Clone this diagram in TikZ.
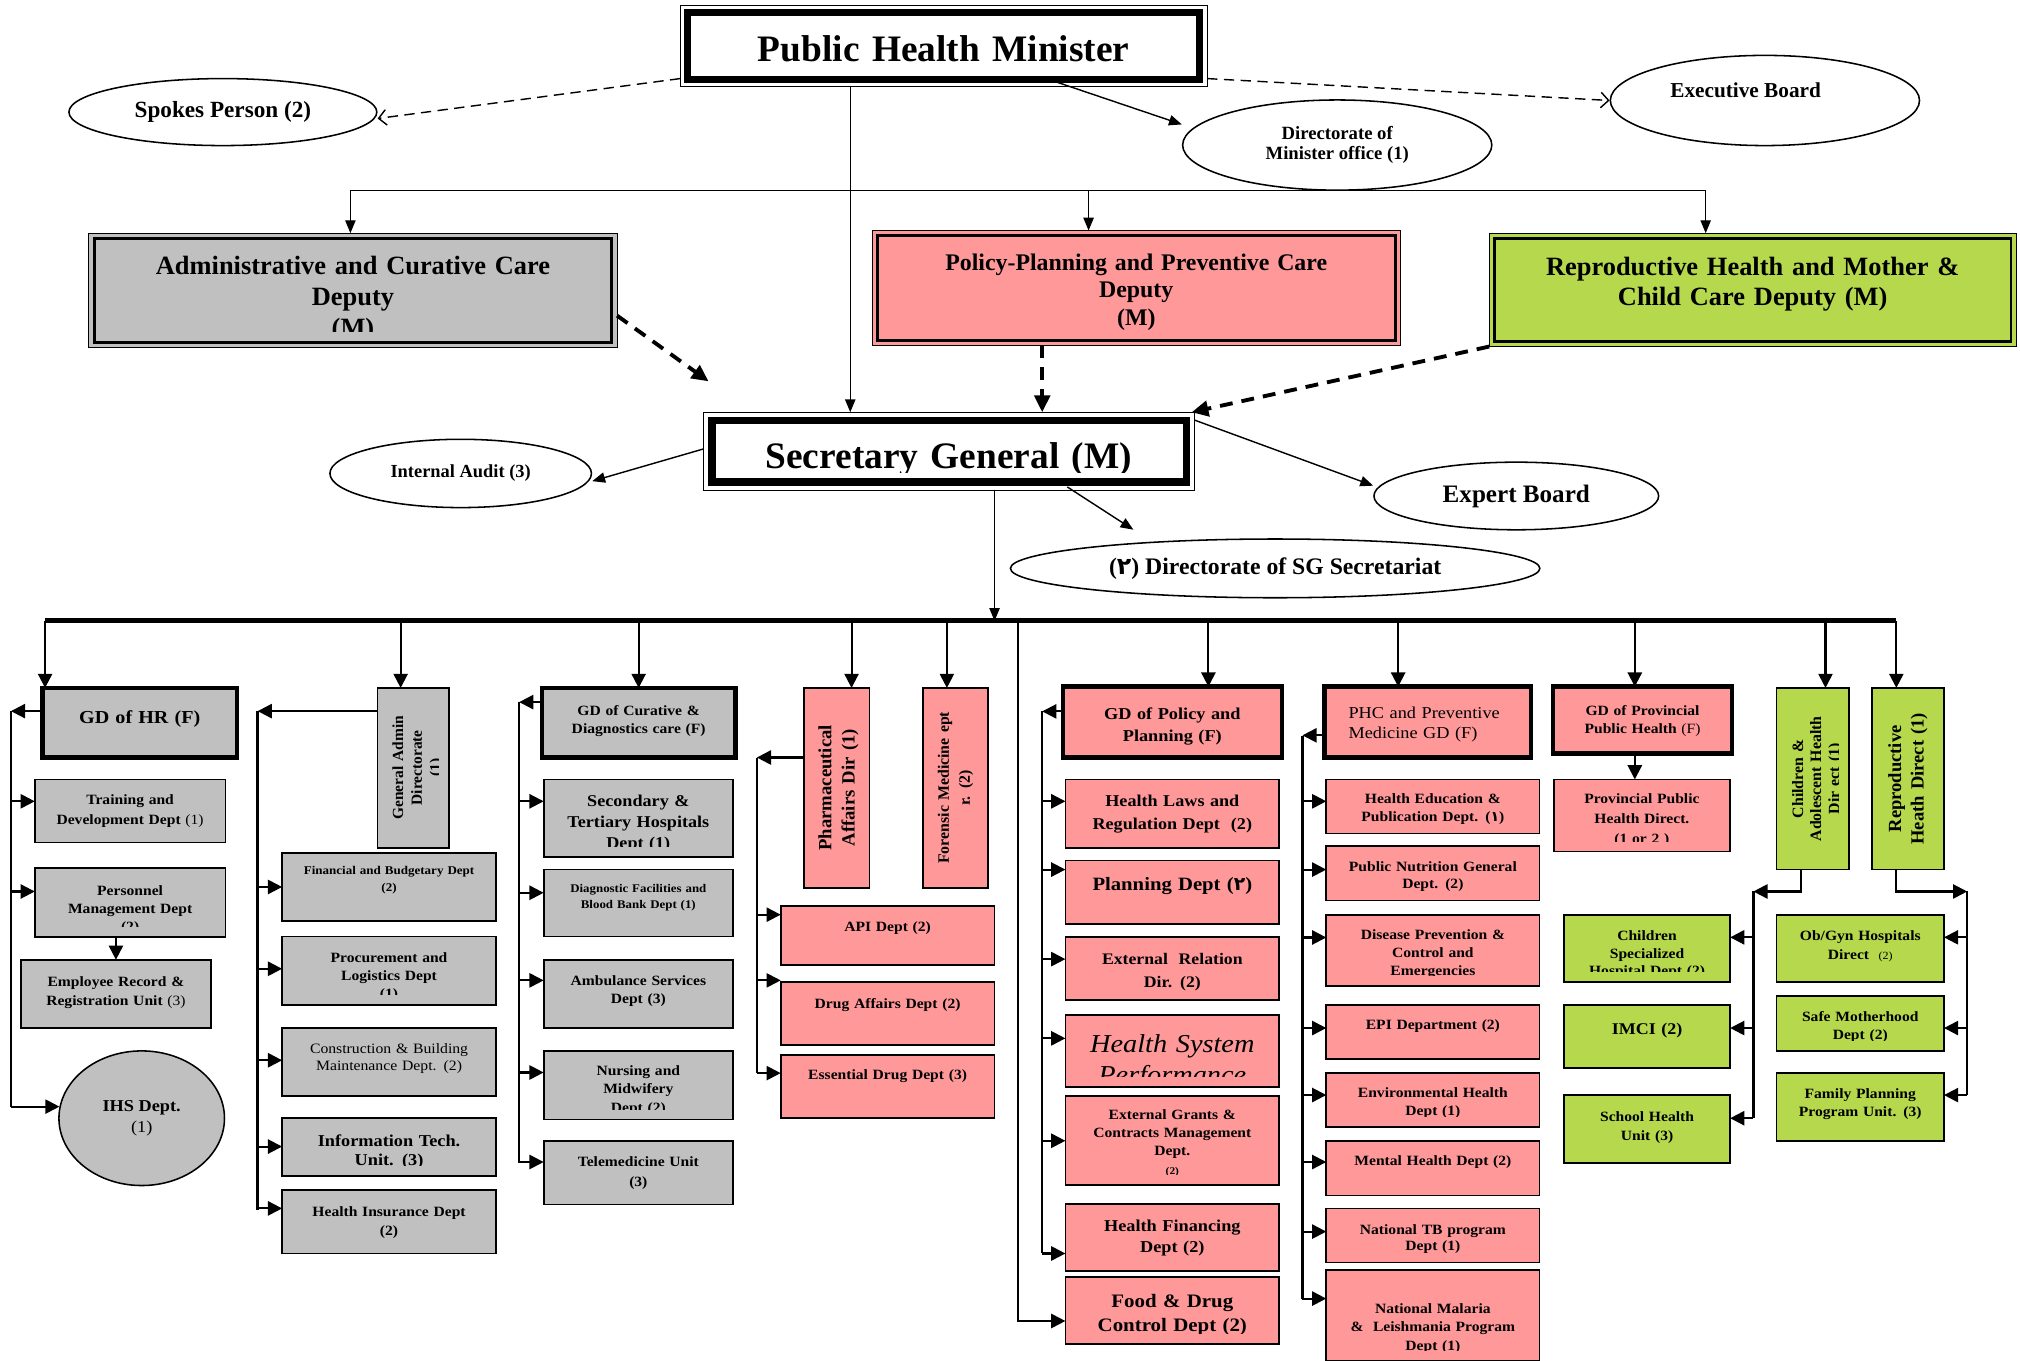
\documentclass[tikz,border=0pt]{standalone}
\usepackage{fontspec}
\setmainfont{Liberation Serif}
\newfontfamily\wfont{Liberation Serif}[FakeStretch=1.1]
\newfontfamily\digfont{DejaVu Sans}
\usetikzlibrary{arrows.meta,shapes.geometric}

\definecolor{cgray}{HTML}{C0C0C0}
\definecolor{cpink}{HTML}{FF9999}
\definecolor{cgreen}{HTML}{B5D84C}

\newdimen\tbW
\newdimen\tbH
\def\clipb{8}

% box with top-aligned, bottom-clipped text: name, box style, text style, x1, y1, x2, y2, first baseline, text
\newcommand\tbox[9]{%
  \tbW=\dimexpr #6pt-#4pt\relax \tbH=\dimexpr #7pt-#5pt\relax
  \node[#2, anchor=north west, minimum width=\the\tbW, minimum height=\the\tbH] (#1) at (#4,#5) {};
  \begin{scope}
    \clip ([yshift=\clipb pt]#1.south west) rectangle (#1.north east);
    \node[anchor=base, text width=\the\dimexpr\tbW-6pt\relax, #3] at ([yshift=-#8pt]#1.north) {#9};
  \end{scope}}

% tall box with text reading upwards, clipped on the right
\newcommand\rbox[9]{%
  \tbW=\dimexpr #6pt-#4pt\relax \tbH=\dimexpr #7pt-#5pt\relax
  \node[#2, anchor=north west, minimum width=\the\tbW, minimum height=\the\tbH] (#1) at (#4,#5) {};
  \begin{scope}
    \clip (#1.south west) rectangle ([xshift=-\clipb pt]#1.north east);
    \node[anchor=base, rotate=90, text width=\the\dimexpr\tbH-4pt\relax, #3] at ([xshift=#8pt]#1.west) {#9};
  \end{scope}}

\begin{document}
\begin{tikzpicture}[x=1pt, y=-1pt,
  bx/.style={draw, line width=1.4pt, inner sep=0pt, outer sep=0pt},
  gbx/.style={bx, fill=cgray},
  pbx/.style={bx, fill=cpink},
  lbx/.style={bx, fill=cgreen},
  gdl/.style={line width=3.4pt},
  depl/.style={line width=0.9pt},
  topbx/.style={bx, fill=white, line width=0.9pt},
  wb/.style 2 args={align=center, inner sep=0pt, font=\wfont\bfseries\fontsize{#1}{#2}\selectfont},
  wr/.style 2 args={align=center, inner sep=0pt, font=\wfont\mdseries\fontsize{#1}{#2}\selectfont},
  wi/.style 2 args={align=center, inner sep=0pt, font=\wfont\mdseries\itshape\fontsize{#1}{#2}\selectfont},
  nb/.style 2 args={align=center, inner sep=0pt, font=\bfseries\fontsize{#1}{#2}\selectfont},
  ell/.style={ellipse, draw, line width=1.2pt, fill=white, inner sep=0pt, align=center},
  thin/.style={line width=1.1pt},
  tarr/.style={line width=1.1pt, -{Triangle[length=10pt,width=8pt]}},
  dsh/.style={line width=1.1pt, dash pattern=on 8pt off 5pt, -{Straight Barb[length=6pt,width=12pt]}},
  tdsh/.style={line width=3pt, dash pattern=on 10pt off 7pt, -{Triangle[length=13pt,width=12pt]}},
  col/.style={line width=1.8pt},
  arr/.style={line width=1.6pt, -{Triangle[length=11pt,width=11pt]}},
  bus/.style={line width=3.8pt}
]
\useasboundingbox (0,0) rectangle (1568,1056);

% ---------------- minister level ----------------
\tbox{phm}{topbx}{nb={29}{34}}{528}{4}{937}{67}{43.4}{Public Health Minister}
\draw[line width=5.5pt] ([xshift=6pt,yshift=-6pt]phm.north west) rectangle ([xshift=-6pt,yshift=5.5pt]phm.south east);

\node[ell, minimum width=239pt, minimum height=52pt, font=\bfseries\fontsize{18}{20}\selectfont] (spokes) at (173,87) {Spokes Person (2)};
\node[ell, minimum width=240pt, minimum height=70pt, font=\bfseries\fontsize{14.5}{16}\selectfont] (dirmin) at (1038,112.6) {Directorate of\\Minister office (1)};
\node[ell, minimum width=240pt, minimum height=70pt] (exec) at (1370,78) {};
\node[nb={16.5}{18}] at ([xshift=-15pt,yshift=8pt]exec.center) {Executive Board};

% ---------------- deputies ----------------
\def\clipb{12.5}
\tbox{admin}{gbx,depl}{nb={20.5}{24}}{69}{181}{479}{270}{32}{Administrative and Curative Care\\Deputy\\(M)}
\def\clipb{8}
\draw[line width=2.3pt] ([xshift=4pt,yshift=-4pt]admin.north west) rectangle ([xshift=-4pt,yshift=4pt]admin.south east);
\tbox{policy}{pbx,depl}{nb={18.5}{21.5}}{677}{179}{1087}{268}{30.6}{Policy-Planning and Preventive Care\\Deputy\\(M)}
\draw[line width=2.3pt] ([xshift=4pt,yshift=-4pt]policy.north west) rectangle ([xshift=-4pt,yshift=4pt]policy.south east);
\tbox{repro}{lbx,depl}{nb={20.5}{23.3}}{1156}{181}{1565}{269}{32.5}{Reproductive Health and Mother \&\\Child Care Deputy (M)}
\draw[line width=2.3pt] ([xshift=4pt,yshift=-4pt]repro.north west) rectangle ([xshift=-4pt,yshift=4pt]repro.south east);

% ---------------- secretary general ----------------
\def\clipb{14}
\tbox{sg}{topbx}{nb={29}{34}}{546}{320}{927}{381}{43.5}{Secretary General (M)}
\def\clipb{8}
\draw[line width=6pt] ([xshift=6.5pt,yshift=-6.5pt]sg.north west) rectangle ([xshift=-6pt,yshift=7pt]sg.south east);

\node[ell, minimum width=203pt, minimum height=53pt, font=\bfseries\fontsize{14.3}{16}\selectfont] (audit) at (357.6,367.5) {Internal Audit (3)};
\node[ell, minimum width=221pt, minimum height=52.5pt, font=\bfseries\fontsize{19.5}{22}\selectfont] (expert) at (1177,385) {Expert Board};
\node[ell, minimum width=411pt, minimum height=45.6pt, font=\bfseries\fontsize{18.4}{20}\selectfont] (sgsec) at (989.8,441.2) {({\digfont ٢}) Directorate of SG Secretariat};

% ---------------- top connectors ----------------
\coordinate (dl) at (272,148);
\coordinate (dr) at (1324,148);
\draw[thin] (dl) -- (dr);
\draw[tarr] (dl) -- (dl |- admin.north);
\draw[tarr] ([xshift=-37pt]policy.north |- dl) -- ([xshift=-37pt]policy.north);
\draw[tarr] (dr) -- (dr |- repro.north);
\draw[tarr] ([xshift=-72.5pt]phm.south) -- ([xshift=-72.5pt]phm.south |- sg.north);
\draw[dsh] ([yshift=6pt]phm.south west) -- ([yshift=-5pt]spokes.east);
\draw[tarr] ([xshift=88.5pt,yshift=3pt]phm.south) -- ([yshift=16pt]dirmin.west);
\draw[dsh] ([yshift=6pt]phm.south east) -- (exec.west);

\coordinate (admTip) at (550,296);
\draw[tdsh] ([yshift=-19.5pt]admin.east) -- (admTip);
\draw[tdsh] ([xshift=-73pt]policy.south) -- ([xshift=-73pt]policy.south |- sg.north);
\draw[tdsh] (repro.south west) -- ([xshift=-2pt]sg.north east);

\draw[tarr] ([yshift=2pt]sg.west) -- ([yshift=-6pt]audit.east);
\draw[tarr] ([yshift=-6pt]sg.north east) -- ([yshift=8pt]expert.west);
\draw[tarr] ([xshift=92pt,yshift=3pt]sg.south) -- ([xshift=-110pt,yshift=30pt]sgsec.center);

\coordinate (busL) at (35,482);
\coordinate (busR) at (1472,482);
\draw[bus] (busL) -- (busR);
\draw[tarr] ([xshift=35.5pt]sg.south) -- ([xshift=35.5pt]sg.south |- busL);

% ---------------- column: human resources ----------------
\tbox{gdhr}{gbx,gdl}{wb={14.2}{17}}{33}{534}{184}{588}{27.6}{GD of HR (F)}
\tbox{tdd}{gbx}{wb={11}{15}}{27}{605}{175}{654}{19.8}{Training and\\Development Dept {\mdseries(1)}}
\tbox{pmd}{gbx}{wb={11}{14}}{27}{674}{175}{727.5}{21}{Personnel\\Management Dept\\(2)}
\tbox{erd}{gbx}{wb={11}{14.6}}{16}{745}{164}{798}{20.7}{Employee Record \&\\Registration Unit {\mdseries(3)}}
\node[ell, fill=cgray, minimum width=128.5pt, minimum height=104.5pt, font=\wfont\bfseries\fontsize{12.9}{17}\selectfont] (ihs) at (110,868) {IHS Dept.\\{\mdseries(1)}};

\coordinate (hrT) at (8.5,552);
\coordinate (hrB) at (8.5,859);
\draw[col] (hrT) -- (hrB);
\draw[arr] ([xshift=2pt]gdhr.north west |- busL) -- ([xshift=2pt]gdhr.north west);
\draw[arr] ([yshift=9pt]gdhr.west) -- ([yshift=9pt]gdhr.west -| hrT);
\draw[arr] ([yshift=7.5pt]tdd.west -| hrT) -- ([yshift=7.5pt]tdd.west);
\draw[arr] ([yshift=8.75pt]pmd.west -| hrT) -- ([yshift=8.75pt]pmd.west);
\draw[arr] ([xshift=-11pt]pmd.south) -- ([xshift=-11pt]pmd.south |- erd.north);
\draw[arr] ([yshift=9pt]ihs.west -| hrT) -- ([xshift=1pt,yshift=9pt]ihs.west);

% ---------------- column: general administration ----------------
\rbox{gad}{gbx}{nb={12}{14.4}}{293}{534}{348.5}{658}{20}{General Admin\\Directorate\\(1)}
\tbox{fbd}{gbx}{wb={9.2}{13.2}}{219}{662}{385}{715}{17}{Financial and Budgetary Dept\\(2)}
\tbox{pld}{gbx}{wb={11}{14.2}}{219}{727}{385}{780}{20}{Procurement and\\Logistics Dept\\(1)}
\tbox{cbm}{gbx}{wr={11.1}{12.8}}{219}{798}{385}{851}{20}{Construction \& Building\\Maintenance Dept. (2)}
\tbox{itu}{gbx}{wb={12.9}{15}}{219}{868}{385}{913}{21.8}{Information Tech.\\Unit. (3)}
\tbox{hid}{gbx}{wb={11}{14.5}}{219}{924}{385}{973}{20.5}{Health Insurance Dept\\(2)}

\coordinate (gaT) at (200,552);
\coordinate (gaB) at (200,939);
\draw[col] (gaT) -- (gaB);
\draw[arr] ([xshift=-9.75pt]gad.north |- busL) -- ([xshift=-9.75pt]gad.north);
\draw[arr] ([yshift=44pt]gad.west) -- ([yshift=44pt]gad.west -| gaT);
\draw[arr] (fbd.west -| gaT) -- (fbd.west);
\draw[arr] ([yshift=1.5pt]pld.west -| gaT) -- ([yshift=1.5pt]pld.west);
\draw[arr] ([yshift=1.5pt]cbm.west -| gaT) -- ([yshift=1.5pt]cbm.west);
\draw[arr] ([yshift=0.5pt]itu.west -| gaT) -- ([yshift=0.5pt]itu.west);
\draw[arr] ([yshift=10.5pt]hid.west -| gaT) -- ([yshift=10.5pt]hid.west);

% ---------------- column: curative care ----------------
\tbox{gdc}{gbx,gdl}{wb={11}{13.8}}{420.5}{534}{571}{588}{21.6}{GD of Curative \&\\Diagnostics care (F)}
\tbox{sth}{gbx}{wb={12.8}{16.2}}{422}{605}{569}{665}{21.4}{Secondary \&\\Tertiary Hospitals\\Dept (1)}
\tbox{dfb}{gbx}{wb={9.1}{12.5}}{422}{675}{569}{727}{17.5}{Diagnostic Facilities and\\Blood Bank Dept (1)}
\tbox{asd}{gbx}{wb={11}{14.2}}{422}{745}{569}{798}{20}{Ambulance Services\\Dept (3)}
\tbox{nmd}{gbx}{wb={11}{14.2}}{422}{815.6}{569}{869}{19.3}{Nursing and\\Midwifery\\Dept (2)}
\tbox{tmu}{gbx}{wb={11}{15}}{422}{885.5}{569}{935}{20.2}{Telemedicine Unit\\(3)}

\coordinate (cuT) at (403,545);
\coordinate (cuB) at (403,903);
\draw[col] (cuT) -- (cuB);
\draw[arr] (gdc.north |- busL) -- (gdc.north);
\draw[arr] ([yshift=16pt]gdc.west) -- ([yshift=16pt]gdc.west -| cuT);
\draw[arr] ([yshift=13pt]sth.west -| cuT) -- ([yshift=13pt]sth.west);
\draw[arr] ([yshift=8pt]dfb.west -| cuT) -- ([yshift=8pt]dfb.west);
\draw[arr] ([yshift=10.5pt]asd.west -| cuT) -- ([yshift=10.5pt]asd.west);
\draw[arr] ([yshift=9.8pt]nmd.west -| cuT) -- ([yshift=9.8pt]nmd.west);
\draw[arr] ([yshift=8.25pt]tmu.west -| cuT) -- ([yshift=8.25pt]tmu.west);

% ---------------- column: pharmaceutical affairs, forensic medicine ----------------
\rbox{pad}{pbx}{nb={14.5}{18}}{624}{534}{675}{689}{21.3}{Pharmaceutical\\Affairs Dir (1)}
\rbox{fmd}{pbx}{nb={12.3}{16.3}}{716.6}{534}{767}{689}{20}{Forensic Medicine ept\\r. (2)}
\tbox{api}{pbx}{wb={11}{14}}{606}{703}{772}{749}{19.9}{API Dept (2)}
\tbox{dad}{pbx}{wb={11}{14}}{606}{762}{772}{811}{20.6}{Drug Affairs Dept (2)}
\tbox{edd}{pbx}{wb={11}{14}}{606}{819}{772}{868}{19.3}{Essential Drug Dept (3)}

\coordinate (phT) at (587.5,588);
\coordinate (phB) at (587.5,833);
\draw[col] (phT) -- (phB);
\draw[arr] ([xshift=11.5pt]pad.north |- busL) -- ([xshift=11.5pt]pad.north);
\draw[arr] ([xshift=-6.8pt]fmd.north |- busL) -- ([xshift=-6.8pt]fmd.north);
\draw[arr] ([yshift=23.5pt]pad.west) -- ([yshift=23.5pt]pad.west -| phT);
\draw[arr] ([yshift=16pt]api.west -| phT) -- ([yshift=16pt]api.west);
\draw[arr] ([yshift=25.5pt]dad.west -| phT) -- ([yshift=25.5pt]dad.west);
\draw[arr] ([yshift=10.5pt]edd.west -| phT) -- ([yshift=10.5pt]edd.west);

% ---------------- column: policy and planning ----------------
\tbox{fdc}{pbx}{wb={14.75}{19.3}}{827}{991}{993}{1043}{23.6}{Food \& Drug\\Control Dept (2)}
\tbox{gdp}{pbx,gdl}{wb={12.9}{16.9}}{825}{533}{995}{588}{25.3}{GD of Policy and\\Planning (F)}
\tbox{hlr}{pbx}{wb={12.8}{17.2}}{827}{605}{993}{658}{21.4}{Health Laws and\\Regulation Dept~ (2)}
\tbox{pln}{pbx}{wb={14.6}{17}}{827}{668}{993}{717}{23.5}{Planning Dept ({\digfont ٢})}
\tbox{erl}{pbx}{wb={12.5}{17.5}}{827}{727.5}{993}{776.5}{21.3}{External~ Relation\\Dir. (2)}
\tbox{hsp}{pbx}{wi={20}{24}}{827}{788}{993}{844}{29.3}{Health System\\Performance}
\tbox{egc}{pbx}{wb={11}{14}}{827}{851}{993}{920}{18.3}{External Grants \&\\Contracts Management\\Dept.\\{\fontsize{8}{9}\selectfont(2)}}
\tbox{hfd}{pbx}{wb={12.9}{16.9}}{827}{934.4}{993}{986.6}{21.2}{Health Financing\\Dept (2)}

\coordinate (fdT) at (790,482);
\draw[arr] (fdT) |- ([yshift=-8.4pt]fdc.west);
\coordinate (poT) at (809,552);
\coordinate (poB) at (809,973);
\draw[col] (poT) -- (poB);
\draw[arr] ([xshift=28pt]gdp.north |- busL) -- ([xshift=28pt]gdp.north);
\draw[arr] ([yshift=8.3pt]gdp.west) -- ([yshift=8.3pt]gdp.west -| poT);
\draw[arr] ([yshift=9.5pt]hlr.west -| poT) -- ([yshift=9.5pt]hlr.west);
\draw[arr] ([yshift=17.5pt]pln.west -| poT) -- ([yshift=17.5pt]pln.west);
\draw[arr] ([yshift=7.5pt]erl.west -| poT) -- ([yshift=7.5pt]erl.west);
\draw[arr] ([yshift=10pt]hsp.west -| poT) -- ([yshift=10pt]hsp.west);
\draw[arr] (egc.west -| poT) -- (egc.west);
\draw[arr] ([yshift=-12.5pt]hfd.west -| poT) -- ([yshift=-12.5pt]hfd.west);

% ---------------- column: primary health care ----------------
\tbox{phc}{pbx,gdl}{wr={12.9}{15.9}, align=left, text width=123pt}{1028}{533}{1188.6}{588}{24.6}{PHC and Preventive\\Medicine GD (F)}
\tbox{hep}{pbx}{wb={11}{13.6}}{1029.5}{605}{1195}{647}{19}{Health Education \&\\Publication Dept. ({\digfont ١})}
\tbox{png}{pbx}{wb={11}{13.5}}{1029.5}{657}{1195}{699}{19.3}{Public Nutrition General\\Dept. (2)}
\tbox{dpc}{pbx}{wb={11}{13.8}}{1029.5}{710}{1195}{765.6}{19.3}{Disease Prevention \&\\Control and\\Emergencies}
\tbox{epi}{pbx}{wb={11}{14}}{1029.5}{780}{1195}{822}{19.5}{EPI Department (2)}
\tbox{env}{pbx}{wb={11}{14.5}}{1029.5}{832.6}{1195}{875}{19.1}{Environmental Health\\Dept (1)}
\tbox{mhd}{pbx}{wb={11}{14}}{1029.5}{885.5}{1195}{928}{19.5}{Mental Health Dept (2)}
\tbox{ntb}{pbx}{wb={11}{13}}{1029.5}{938}{1195}{980}{20}{National TB program\\Dept (1)}
\tbox{nml}{pbx}{wb={11}{14.2}}{1029.5}{986}{1195}{1056}{33.7}{National Malaria\\\&~ Leishmania Program\\Dept (1)}

\coordinate (pcT) at (1011,571);
\coordinate (pcB) at (1011,1008);
\draw[col] (pcT) -- (pcB);
\draw[arr] ([xshift=-23pt]phc.north |- busL) -- ([xshift=-23pt]phc.north);
\draw[arr] ([yshift=-10.3pt]phc.west) -- ([yshift=-10.3pt]phc.west -| pcT);
\draw[arr] ([yshift=4pt]hep.west -| pcT) -- ([yshift=4pt]hep.west);
\draw[arr] ([yshift=3pt]png.west -| pcT) -- ([yshift=3pt]png.west);
\draw[arr] ([yshift=10.1pt]dpc.west -| pcT) -- ([yshift=10.1pt]dpc.west);
\draw[arr] ([yshift=3pt]epi.west -| pcT) -- ([yshift=3pt]epi.west);
\draw[arr] ([yshift=3.8pt]env.west -| pcT) -- ([yshift=3.8pt]env.west);
\draw[arr] ([yshift=4.75pt]mhd.west -| pcT) -- ([yshift=4.75pt]mhd.west);
\draw[arr] ([yshift=3pt]ntb.west -| pcT) -- ([yshift=3pt]ntb.west);
\draw[arr] ([yshift=13pt]nml.west -| pcT) -- ([yshift=13pt]nml.west);

% ---------------- column: provincial public health ----------------
\tbox{gpp}{pbx,gdl}{wb={11}{13.8}}{1205.5}{533}{1344.5}{585}{22.6}{GD of Provincial\\Public Health {\mdseries(F)}}
\tbox{ppd}{pbx}{wb={11}{15.5}}{1206}{605}{1343}{661}{19}{Provincial Public\\Health Direct.\\(1 or 2 )}
\draw[arr] ([xshift=-6pt]gpp.north |- busL) -- ([xshift=-6pt]gpp.north);
\draw[arr] ([xshift=-6pt]gpp.south) -- ([xshift=-6pt]gpp.south |- ppd.north);

% ---------------- column: children and adolescent health ----------------
\rbox{cah}{lbx}{nb={12.3}{14}}{1379}{534}{1435}{675}{20.7}{Children \&\\Adolescent Health\\Dir ect (1)}
\tbox{csh}{lbx}{wb={11}{13.5}}{1214}{710}{1343}{762}{20.3}{Children\\Specialized\\Hospital Dept (2)}
\tbox{imc}{lbx}{wb={12.7}{15}}{1214}{780}{1343}{829}{22.8}{IMCI (2)}
\tbox{shu}{lbx}{wb={11}{15.2}}{1214}{850}{1343}{903}{20.3}{School Health\\Unit (3)}

\coordinate (caT) at (1361,692);
\coordinate (caB) at (1361,868);
\draw[arr] ([xshift=10pt]cah.north |- busL) -- ([xshift=10pt]cah.north);
\draw[arr] ([xshift=-8.7pt]cah.south) |- (caT);
\draw[col] (caT) -- (caB);
\draw[arr] ([yshift=8.4pt]csh.east -| caT) -- ([yshift=8.4pt]csh.east);
\draw[arr] ([yshift=6.5pt]imc.east -| caT) -- ([yshift=6.5pt]imc.east);
\draw[arr] ([yshift=8.5pt]shu.east -| caT) -- ([yshift=8.5pt]shu.east);

% ---------------- column: reproductive health ----------------
\rbox{rhd}{lbx}{nb={14.4}{17.5}}{1453}{534}{1509}{675}{22.7}{Reproductive\\Heath Direct (1)}
\tbox{ogh}{lbx}{wb={11}{14.5}}{1379}{710}{1509}{762}{20.3}{Ob/Gyn Hospitals\\Direct~ {\mdseries\fontsize{8.5}{9}\selectfont(2)}}
\tbox{smd}{lbx}{wb={11}{14.5}}{1379}{773.4}{1509}{815.6}{19.3}{Safe Motherhood\\Dept (2)}
\tbox{fpp}{lbx}{wb={11}{14.5}}{1379}{832.6}{1509}{885.5}{19.8}{Family Planning\\Program Unit. (3)}

\coordinate (rhT) at (1527,692);
\coordinate (rhB) at (1527,850);
\draw[arr] ([xshift=-9pt]rhd.north |- busL) -- ([xshift=-9pt]rhd.north);
\draw[arr] ([xshift=-9.2pt]rhd.south) |- (rhT);
\draw[col] (rhT) -- (rhB);
\draw[arr] ([yshift=8.4pt]ogh.east -| rhT) -- ([yshift=8.4pt]ogh.east);
\draw[arr] ([yshift=-3.5pt]smd.east -| rhT) -- ([yshift=-3.5pt]smd.east);
\draw[arr] ([yshift=9pt]fpp.east -| rhT) -- ([yshift=9pt]fpp.east);
\end{tikzpicture}
\end{document}
